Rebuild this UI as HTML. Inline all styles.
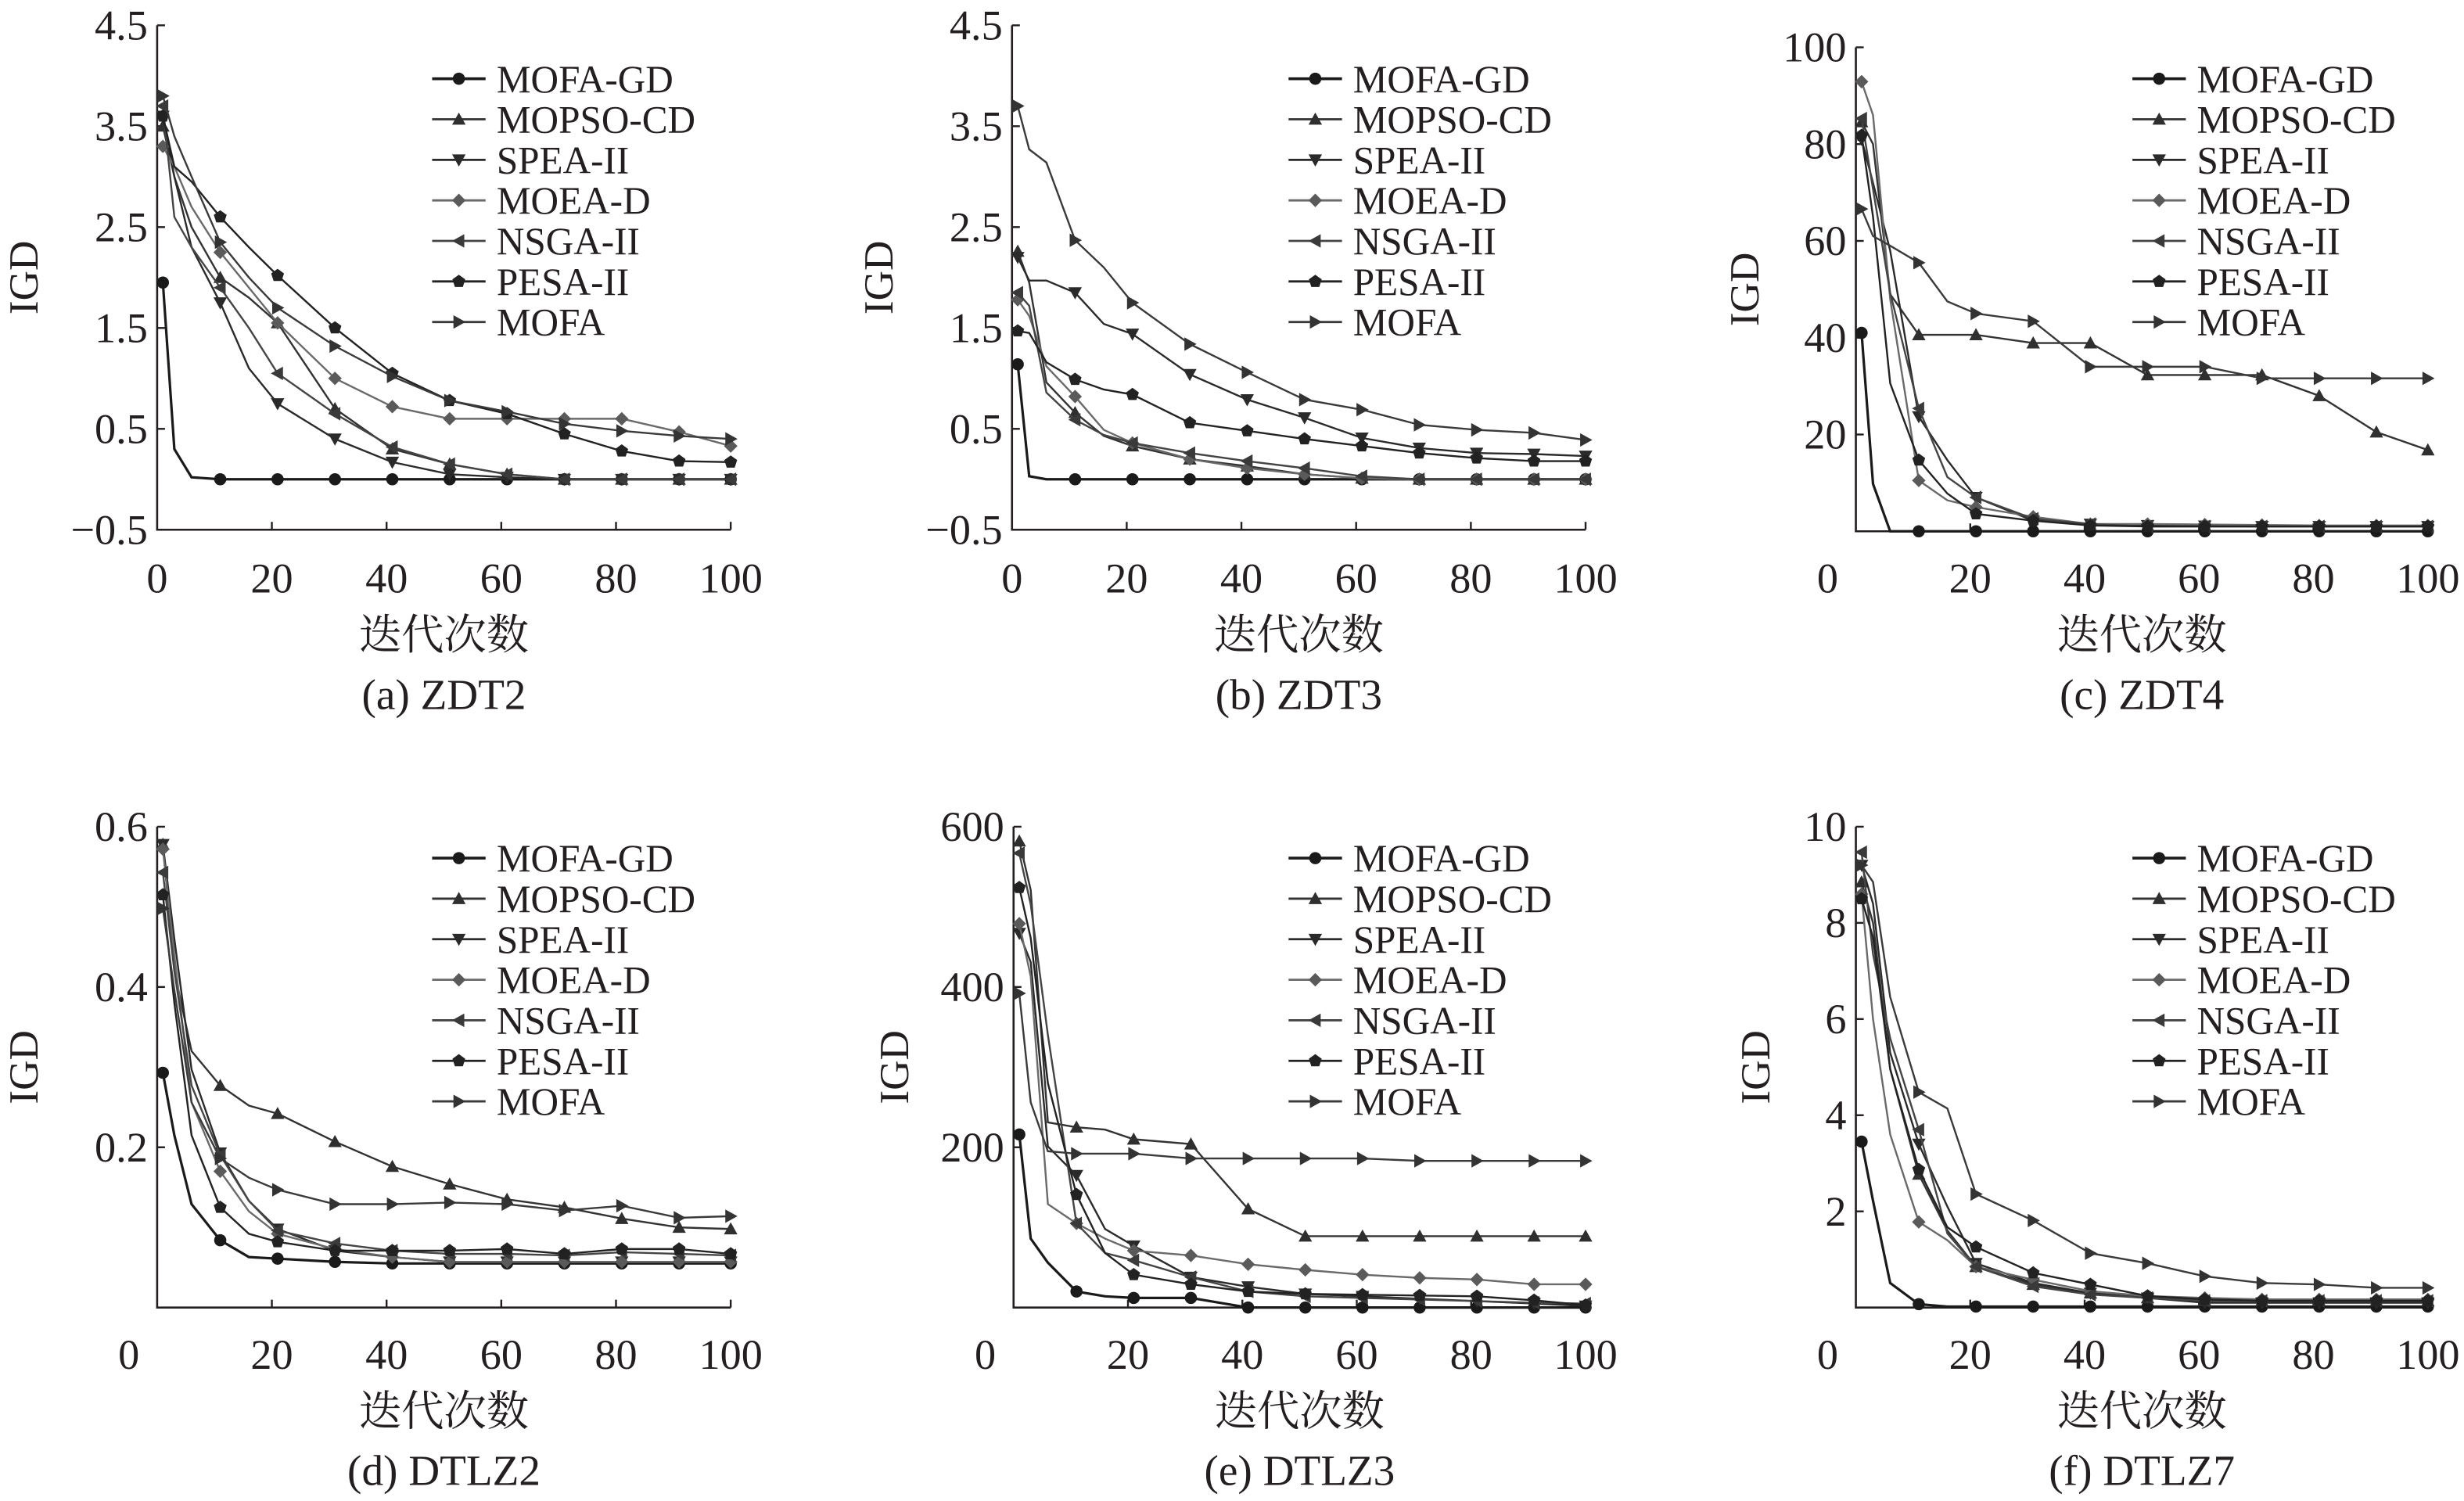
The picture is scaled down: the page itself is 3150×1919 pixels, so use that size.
<!DOCTYPE html>
<html><head><meta charset="utf-8"><style>
html,body{margin:0;padding:0;background:#fff;}
svg{display:block;}
text{font-family:"Liberation Serif","Noto Serif CJK SC",serif;fill:#231f20;}
.cn{font-family:"Liberation Serif","Noto Serif CJK SC","Noto Sans CJK SC",serif;}
</style></head><body>
<svg id="fig" width="3150" height="1919" viewBox="0 0 1568 955" xmlns="http://www.w3.org/2000/svg"></svg>
<script>
const iters = [1,3,6,11,16,21,31,41,51,61,71,81,91,100];
const markerIters = [1,11,21,31,41,51,61,71,81,91,100];
const seriesNames = ["MOFA-GD","MOPSO-CD","SPEA-II","MOEA-D","NSGA-II","PESA-II","MOFA"];

const zdt2_GD    = [1.95,0.3,0.02,0,0,0,0,0,0,0,0,0,0,0];
const zdt2_MOPSO = [3.5,3.0,2.5,2.0,1.8,1.55,0.7,0.3,0.15,0.05,0,0,0,0];
const zdt2_SPEA  = [3.6,3.0,2.3,1.75,1.1,0.75,0.4,0.17,0.05,0.02,0,0,0,0];
const zdt2_MOEAD = [3.3,3.1,2.7,2.25,1.9,1.55,1.0,0.72,0.6,0.6,0.6,0.6,0.47,0.33];
const zdt2_NSGA  = [3.7,2.6,2.3,1.9,1.5,1.05,0.65,0.32,0.15,0.05,0,0,0,0];
const zdt2_PESA  = [3.6,3.1,2.95,2.6,2.3,2.02,1.5,1.05,0.78,0.65,0.45,0.28,0.18,0.17];
const zdt2_MOFA  = [3.8,3.4,3.0,2.35,2.0,1.7,1.32,1.02,0.78,0.67,0.55,0.48,0.43,0.4];

const zdt3_GD    = [1.14,0.03,0,0,0,0,0,0,0,0,0,0,0,0];
const zdt3_MOPSO = [2.26,1.95,0.96,0.66,0.43,0.33,0.2,0.13,0.05,0.01,0,0,0,0];
const zdt3_SPEA  = [2.2,1.97,1.97,1.85,1.54,1.44,1.04,0.79,0.61,0.41,0.31,0.26,0.25,0.23];
const zdt3_MOEAD = [1.78,1.62,1.12,0.82,0.49,0.36,0.2,0.11,0.05,0.01,0,0,0,0];
const zdt3_NSGA  = [1.85,1.72,0.86,0.59,0.44,0.36,0.26,0.18,0.11,0.03,0,0,0,0];
const zdt3_PESA  = [1.47,1.45,1.16,0.99,0.89,0.84,0.56,0.48,0.4,0.33,0.26,0.21,0.18,0.18];
const zdt3_MOFA  = [3.7,3.27,3.14,2.37,2.1,1.75,1.34,1.06,0.79,0.69,0.54,0.49,0.46,0.39];

const zdt4_GD    = [41,9.8,0,0,0,0,0,0,0,0,0,0,0,0];
const zdt4_MOPSO = [84.6,80,49,40.6,40.6,40.6,38.9,38.9,32.3,32.3,32.3,28,20.5,16.8];
const zdt4_SPEA  = [81,72,58,23.7,14.7,7,2.2,1.5,1.2,1.1,1,1,1,1];
const zdt4_MOEAD = [92.9,86,48,10.5,6.4,5,3,1.5,1.5,1.4,1.3,1.2,1.2,1.2];
const zdt4_NSGA  = [85.3,70.7,49.3,25.4,11.2,7,2.6,1.5,1,1,1,1,1,1];
const zdt4_PESA  = [81.8,65,30.6,14.7,7.8,3.6,2.2,1.2,1,1,1,1,1,1];
const zdt4_MOFA  = [66.6,61,59,55.5,47.5,45,43.4,34,34,34,31.6,31.6,31.6,31.6];

const dtlz2_GD    = [0.293,0.215,0.129,0.084,0.063,0.061,0.057,0.055,0.055,0.055,0.055,0.055,0.055,0.055];
const dtlz2_MOPSO = [0.578,0.42,0.32,0.277,0.252,0.242,0.207,0.176,0.154,0.135,0.125,0.111,0.1,0.098];
const dtlz2_SPEA  = [0.578,0.46,0.297,0.193,0.133,0.098,0.071,0.063,0.057,0.057,0.057,0.057,0.057,0.057];
const dtlz2_MOEAD = [0.572,0.44,0.256,0.17,0.12,0.092,0.073,0.063,0.057,0.057,0.057,0.057,0.057,0.057];
const dtlz2_NSGA  = [0.543,0.42,0.277,0.19,0.133,0.096,0.08,0.071,0.067,0.067,0.065,0.069,0.067,0.065];
const dtlz2_PESA  = [0.515,0.38,0.215,0.125,0.092,0.082,0.071,0.071,0.071,0.073,0.067,0.073,0.073,0.067];
const dtlz2_MOFA  = [0.498,0.396,0.256,0.186,0.162,0.147,0.129,0.129,0.131,0.129,0.121,0.127,0.112,0.114];

const dtlz3_GD    = [216,86,56,20,14,12,12,0,0,0,0,0,0,0];
const dtlz3_MOPSO = [582,521,231,225,222,210,204,123,89,89,89,89,89,89];
const dtlz3_SPEA  = [467,431,201,165,98,77,38,26,17,14,11,8,5,2];
const dtlz3_MOEAD = [479,413,129,105,86,71,65,54,47,41,37,35,29,29];
const dtlz3_NSGA  = [567,503,340,105,68,59,38,20,14,12,10,8,6,5];
const dtlz3_PESA  = [524,461,280,141,68,41,29,20,17,16,15,14,9,3];
const dtlz3_MOFA  = [392,256,195,192,192,192,186,186,186,186,183,183,183,183];

const dtlz7_GD    = [3.45,2.22,0.51,0.07,0.02,0.02,0.02,0.02,0.02,0.02,0.02,0.02,0.02,0.02];
const dtlz7_MOPSO = [8.85,8.0,4.96,2.77,1.6,0.85,0.48,0.3,0.2,0.14,0.14,0.14,0.14,0.14];
const dtlz7_SPEA  = [9.2,8.4,5.3,3.4,2.1,0.92,0.51,0.3,0.2,0.1,0.1,0.1,0.1,0.1];
const dtlz7_MOEAD = [8.6,6.0,3.6,1.78,1.4,0.85,0.58,0.34,0.24,0.2,0.17,0.17,0.17,0.17];
const dtlz7_NSGA  = [9.47,7.35,5.6,3.7,1.54,0.85,0.44,0.27,0.2,0.14,0.14,0.14,0.14,0.14];
const dtlz7_PESA  = [8.5,7.7,4.96,2.87,1.67,1.26,0.72,0.48,0.24,0.17,0.14,0.14,0.14,0.14];
const dtlz7_MOFA  = [9.2,8.85,6.46,4.48,4.14,2.36,1.81,1.13,0.92,0.65,0.51,0.48,0.41,0.41];

const ticksA = [-0.5,0.5,1.5,2.5,3.5,4.5];
const ticksC = [20,40,60,80,100];
const ticksD = [0.2,0.4,0.6];
const ticksE = [200,400,600];
const ticksF = [2,4,6,8,10];
const xTicks = [0,20,40,60,80,100];

const NS="http://www.w3.org/2000/svg";
const svg=document.getElementById('fig');
function mk(tag,attrs,parent){const e=document.createElementNS(NS,tag);for(const k in attrs)e.setAttribute(k,attrs[k]);(parent||svg).appendChild(e);return e;}

const colors=["#1a1a1a","#333","#2a2a2a","#6a6a6a","#444","#222","#3a3a3a"];
const markerFill=["#1a1a1a","#2f2f2f","#2a2a2a","#5a5a5a","#3a3a3a","#222","#333"];

function marker(g,type,x,y,i){
  const r=4.3,c=markerFill[i];let el;
  if(type===0) el=mk('circle',{cx:x,cy:y,r:r*0.9,fill:c},g);
  else{
    let pts;
    if(type===1) pts=[[x,y-r],[x+r,y+r*0.8],[x-r,y+r*0.8]];
    else if(type===2) pts=[[x-r,y-r*0.8],[x+r,y-r*0.8],[x,y+r]];
    else if(type===3) pts=[[x,y-r],[x+r,y],[x,y+r],[x-r,y]];
    else if(type===4) pts=[[x-r,y],[x+r*0.8,y-r],[x+r*0.8,y+r]];
    else if(type===5){pts=[];for(let k=0;k<5;k++){const a=-Math.PI/2+k*2*Math.PI/5;pts.push([x+r*Math.cos(a),y+r*Math.sin(a)]);}}
    else pts=[[x+r,y],[x-r*0.8,y-r],[x-r*0.8,y+r]];
    el=mk('polygon',{points:pts.map(p=>p.join(',')).join(' '),fill:c},g);
  }
  return el;
}

function panel(cfg){
  const g=mk('g',{});
  
  
  const x0=cfg.x0,x1=cfg.x1,yT=cfg.yT,yB=cfg.yB;
  const sx=v=>x0+(v/100)*(x1-x0);
  const sy=v=>yB-(v-cfg.ymin)/(cfg.ymax-cfg.ymin)*(yB-yT);
  const axes=mk('path',{d:`M${x0},${yT} L${x0},${yB} L${x1},${yB}`,stroke:'#231f20','stroke-width':1.3,fill:'none'},g);
  
  
  cfg.yTicks.forEach(t=>{
    const y=sy(t);
    mk('line',{x1:x0,y1:y,x2:x0+5,y2:y,stroke:'#231f20','stroke-width':1.2},g);
    const tx=mk('text',{x:x0-6,y:y+9,'text-anchor':'end','font-size':27},g);
    tx.textContent=cfg.fmt(t);
    
    
  });
  xTicks.forEach(t=>{
    const x=sx(t);
    if(t>0) mk('line',{x1:x,y1:yB,x2:x,y2:yB-5,stroke:'#231f20','stroke-width':1.2},g);
    const lx=(t===0&&cfg.zeroShift)?x-18:x;
    const tx=mk('text',{x:lx,y:cfg.tickY,'text-anchor':'middle','font-size':27},g);
    tx.textContent=String(t);
    
    
  });
  const mid=(x0+x1)/2;
  const xl=mk('text',{x:mid,y:cfg.tickY+36,'text-anchor':'middle','font-size':27,class:'cn'},g);
  xl.textContent='迭代次数';
  
  
  const cap=mk('text',{x:mid,y:cfg.tickY+74,'text-anchor':'middle','font-size':27.5},g);
  cap.textContent=cfg.caption;
  
  
  const yc=(yT+yB)/2;
  const yl=mk('text',{x:cfg.ylabX,y:yc,'text-anchor':'middle','font-size':26.5,transform:`rotate(-90 ${cfg.ylabX} ${yc})`},g);
  yl.textContent='IGD';
  
  
  cfg.series.forEach((vals,i)=>{
    const sg=mk('g',{},g);
    
    
    const pts=iters.map((it,k)=>sx(it)+','+sy(vals[k])).join(' ');
    const pl=mk('polyline',{points:pts,fill:'none',stroke:colors[i],'stroke-width':i===0?1.6:1.2},sg);
    
    
    iters.forEach((it,k)=>{
      if(markerIters.indexOf(it)>=0){
        const m=marker(sg,i,sx(it),sy(vals[k]),i);
        
        
      }
    });
  });
  const lg=mk('g',{},g);
  
  
  seriesNames.forEach((n,i)=>{
    const y=cfg.legY+i*25.8;
    const eg=mk('g',{},lg);
    
    
    mk('line',{x1:cfg.legX,y1:y,x2:cfg.legX+34,y2:y,stroke:colors[i],'stroke-width':i===0?1.8:1.4},eg);
    marker(eg,i,cfg.legX+17,y,i);
    const t=mk('text',{x:cfg.legX+41,y:y+8.5,'font-size':24.5},eg);
    t.textContent=n;
  });
}

const fmtA=v=>v<0?'\u2212'+Math.abs(v).toFixed(1):v.toFixed(1);
panel({name:'panel-zdt2',x0:100,x1:465,yT:16,yB:337,ymin:-0.5,ymax:4.5,yTicks:ticksA,fmt:fmtA,tickY:377,caption:'(a) ZDT2',ylabX:24,legX:275,legY:50,
  series:[zdt2_GD,zdt2_MOPSO,zdt2_SPEA,zdt2_MOEAD,zdt2_NSGA,zdt2_PESA,zdt2_MOFA]});
panel({name:'panel-zdt3',x0:644,x1:1009,yT:16,yB:337,ymin:-0.5,ymax:4.5,yTicks:ticksA,fmt:fmtA,tickY:377,caption:'(b) ZDT3',ylabX:568,legX:820,legY:50,
  series:[zdt3_GD,zdt3_MOPSO,zdt3_SPEA,zdt3_MOEAD,zdt3_NSGA,zdt3_PESA,zdt3_MOFA]});
panel({name:'panel-zdt4',x0:1181,x1:1545,yT:30,yB:338,ymin:0,ymax:100,yTicks:ticksC,fmt:v=>String(v),tickY:377,caption:'(c) ZDT4',ylabX:1119,legX:1357,legY:50,zeroShift:true,
  series:[zdt4_GD,zdt4_MOPSO,zdt4_SPEA,zdt4_MOEAD,zdt4_NSGA,zdt4_PESA,zdt4_MOFA]});
panel({name:'panel-dtlz2',x0:100,x1:465,yT:526,yB:832,ymin:0,ymax:0.6,yTicks:ticksD,fmt:v=>v.toFixed(1),tickY:871,caption:'(d) DTLZ2',ylabX:24,legX:275,legY:546,zeroShift:true,
  series:[dtlz2_GD,dtlz2_MOPSO,dtlz2_SPEA,dtlz2_MOEAD,dtlz2_NSGA,dtlz2_PESA,dtlz2_MOFA]});
panel({name:'panel-dtlz3',x0:645,x1:1009,yT:526,yB:832,ymin:0,ymax:600,yTicks:ticksE,fmt:v=>String(v),tickY:871,caption:'(e) DTLZ3',ylabX:578,legX:820,legY:546,zeroShift:true,
  series:[dtlz3_GD,dtlz3_MOPSO,dtlz3_SPEA,dtlz3_MOEAD,dtlz3_NSGA,dtlz3_PESA,dtlz3_MOFA]});
panel({name:'panel-dtlz7',x0:1181,x1:1545,yT:526,yB:832,ymin:0,ymax:10,yTicks:ticksF,fmt:v=>String(v),tickY:871,caption:'(f) DTLZ7',ylabX:1126,legX:1357,legY:546,zeroShift:true,
  series:[dtlz7_GD,dtlz7_MOPSO,dtlz7_SPEA,dtlz7_MOEAD,dtlz7_NSGA,dtlz7_PESA,dtlz7_MOFA]});
</script>
</body></html>
